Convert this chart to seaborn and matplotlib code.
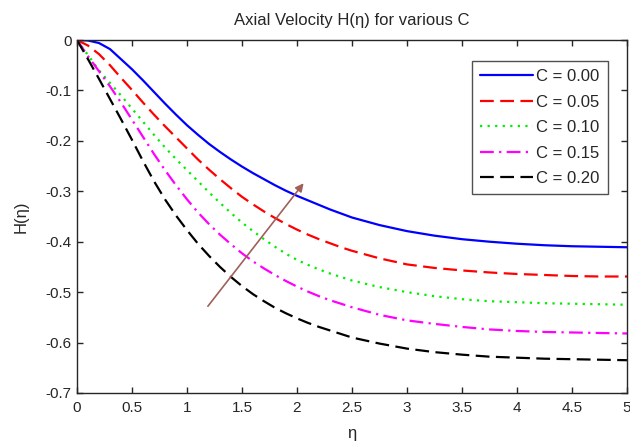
import matplotlib
matplotlib.use("Agg")
import matplotlib.pyplot as plt
from matplotlib.ticker import FuncFormatter, MultipleLocator
import numpy as np
import pandas as pd
import seaborn as sns

# similarity coordinate (finer spacing where the profiles bend most)
eta = [0.0, 0.1, 0.2, 0.3, 0.4, 0.5, 0.6, 0.7, 0.8, 0.9, 1.0,
       1.1, 1.2, 1.3, 1.4, 1.5, 1.6, 1.7, 1.8, 1.9, 2.0,
       2.1, 2.2, 2.3, 2.4, 2.5, 2.75, 3.0, 3.25, 3.5, 3.75,
       4.0, 4.25, 4.5, 4.75, 5.0]

# axial velocity profiles H(eta) for each value of C
h_c000 = [0.0, -0.001, -0.006, -0.018, -0.038, -0.058, -0.080, -0.103, -0.126, -0.148, -0.169,
          -0.188, -0.206, -0.222, -0.237, -0.251, -0.264, -0.276, -0.288, -0.299, -0.309,
          -0.318, -0.327, -0.336, -0.344, -0.352, -0.367, -0.379, -0.388, -0.395, -0.400,
          -0.404, -0.407, -0.409, -0.410, -0.411]
h_c005 = [0.0, -0.011, -0.028, -0.050, -0.075, -0.099, -0.124, -0.148, -0.171, -0.193, -0.215,
          -0.237, -0.257, -0.276, -0.294, -0.311, -0.326, -0.340, -0.353, -0.365, -0.376,
          -0.386, -0.395, -0.403, -0.411, -0.418, -0.433, -0.445, -0.452, -0.457, -0.461,
          -0.464, -0.466, -0.468, -0.469, -0.469]
h_c010 = [0.0, -0.030, -0.060, -0.085, -0.110, -0.136, -0.162, -0.188, -0.213, -0.236, -0.258,
          -0.280, -0.302, -0.323, -0.343, -0.362, -0.379, -0.395, -0.410, -0.424, -0.436,
          -0.446, -0.455, -0.463, -0.470, -0.477, -0.490, -0.500, -0.508, -0.514, -0.518,
          -0.520, -0.522, -0.523, -0.524, -0.525]
h_c015 = [0.0, -0.032, -0.062, -0.092, -0.124, -0.158, -0.192, -0.226, -0.258, -0.288, -0.316,
          -0.342, -0.365, -0.386, -0.405, -0.423, -0.439, -0.453, -0.466, -0.478, -0.489,
          -0.499, -0.508, -0.516, -0.523, -0.530, -0.545, -0.556, -0.563, -0.569, -0.574,
          -0.577, -0.579, -0.580, -0.581, -0.582]
h_c020 = [0.0, -0.038, -0.077, -0.117, -0.157, -0.198, -0.240, -0.280, -0.316, -0.348, -0.377,
          -0.404, -0.428, -0.450, -0.470, -0.488, -0.504, -0.518, -0.531, -0.542, -0.552,
          -0.561, -0.569, -0.576, -0.583, -0.590, -0.602, -0.612, -0.619, -0.624, -0.628,
          -0.630, -0.632, -0.633, -0.634, -0.635]

labels = ["C = 0.00", "C = 0.05", "C = 0.10", "C = 0.15", "C = 0.20"]
series = [h_c000, h_c005, h_c010, h_c015, h_c020]
colors = ["#0000ff", "#ff0000", "#00ee00", "#ff00ff", "#000000"]
styles = ["-", (0, (6.2, 2.9)), (0, (1.0, 2.4)), (0, (6.2, 2.4, 1.0, 2.4)), (0, (6.2, 2.9))]

# arrow showing the direction of increasing C
arrow_start = (1.19, -0.528)
arrow_end = (2.06, -0.284)

df = pd.DataFrame({
    "eta": np.tile(eta, len(series)),
    "H": np.concatenate(series),
    "C": np.repeat(labels, len(eta)),
})

sns.set_style("ticks", {"xtick.direction": "in", "ytick.direction": "in"})
plt.rcParams["font.family"] = ["Liberation Sans", "DejaVu Sans"]
plt.rcParams["axes.unicode_minus"] = False

fig = plt.figure(figsize=(6.3, 4.44), dpi=100)
ax = fig.add_axes([0.1222, 0.1149, 0.873, 0.7950])

for lab, col, ls in zip(labels, colors, styles):
    sub = df[df["C"] == lab]
    sns.lineplot(data=sub, x="eta", y="H", ax=ax, color=col, linestyle=ls,
                 linewidth=1.6, label=lab, sort=False)

ax.annotate("", xy=arrow_end, xytext=arrow_start,
            arrowprops=dict(arrowstyle="-|>", color="#a0605a", lw=1.2,
                            mutation_scale=12, shrinkA=0, shrinkB=0))

ax.set_xlim(0, 5)
ax.set_ylim(-0.7, 0)
ax.xaxis.set_major_locator(MultipleLocator(0.5))
ax.yaxis.set_major_locator(MultipleLocator(0.1))
fmt = FuncFormatter(lambda v, p: "%g" % round(v, 3))
ax.xaxis.set_major_formatter(fmt)
ax.yaxis.set_major_formatter(fmt)
ax.tick_params(direction="in", top=True, right=True, length=4, width=1,
               labelsize=11, colors="#262626")
ax.tick_params(axis="x", pad=6)
ax.tick_params(axis="y", pad=4)
for s in ax.spines.values():
    s.set_color("#262626")
    s.set_linewidth(1.0)

ax.set_title("Axial Velocity H(\u03b7) for various C", fontsize=12, color="#262626", pad=11)
ax.set_xlabel("\u03b7", fontsize=12, color="#262626", labelpad=8)
ax.set_ylabel("H(\u03b7)", fontsize=12, color="#262626", labelpad=12)

leg = ax.legend(loc="upper right", bbox_to_anchor=(0.9655, 0.9414), borderaxespad=0,
                fontsize=12, frameon=True, fancybox=False, edgecolor="#262626",
                handlelength=3.2, handletextpad=0.18, labelspacing=0.63,
                borderpad=0.5)
leg.get_frame().set_linewidth(1.0)

fig.savefig("out.png", dpi=100)
